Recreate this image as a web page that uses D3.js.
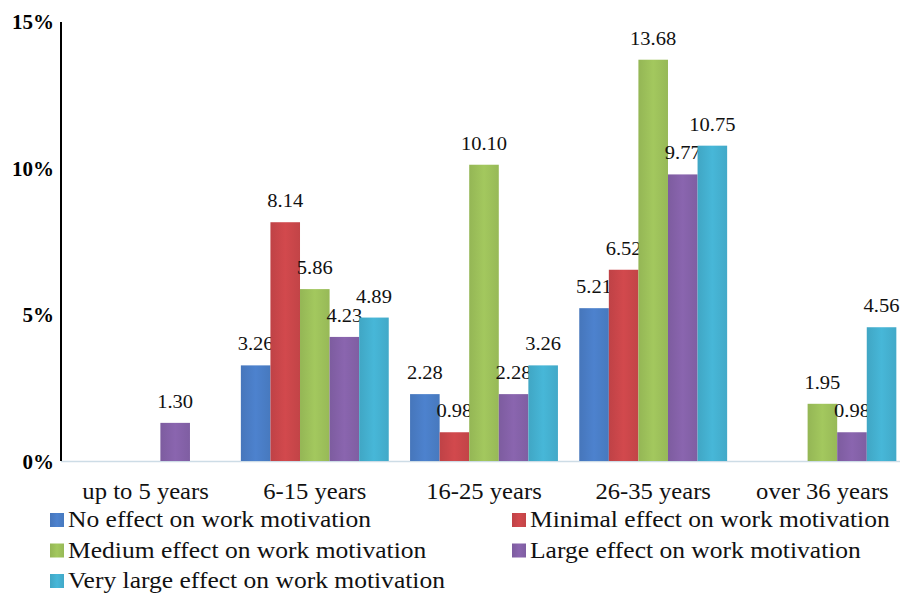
<!DOCTYPE html>
<html>
<head>
<meta charset="utf-8">
<script src="https://cdn.jsdelivr.net/npm/d3@7"></script>
<style>
  html, body { margin: 0; padding: 0; background: #fff; }
  svg text { font-family: "Times New Roman", "Liberation Serif", Times, "Noto Serif", "DejaVu Serif", serif; }
</style>
</head>
<body>
<svg id="chart" width="902" height="594"></svg>
<script>
// Years of service groups
const categories = ["up to 5 years", "6-15 years", "16-25 years", "26-35 years", "over 36 years"];

// Share of respondents (%) per effect level; null = no bar
const noEffect       = [null, 3.26, 2.28, 5.21, null];
const minimalEffect  = [null, 8.14, 0.98, 6.52, null];
const mediumEffect   = [null, 5.86, 10.10, 13.68, 1.95];
const largeEffect    = [1.30, 4.23, 2.28, 9.77, 0.98];
const veryLargeEffect= [null, 4.89, 3.26, 10.75, 4.56];

const seriesNames = [
  "No effect on work motivation",
  "Minimal effect on work motivation",
  "Medium effect on work motivation",
  "Large effect on work motivation",
  "Very large effect on work motivation"
];
const seriesColors = ["#4a7dc5", "#c9464a", "#9cc05a", "#8461a8", "#44afcf"];
const yTicks = [0, 5, 10, 15];
const yTickLabels = ["0%", "5%", "10%", "15%"];

const seriesValues = [noEffect, minimalEffect, mediumEffect, largeEffect, veryLargeEffect];

const svg = d3.select("#chart");

const x0 = d3.scaleBand().domain(categories).range([61, 907]).paddingInner(0.126).paddingOuter(0.063);
const x1 = d3.scaleBand().domain(d3.range(seriesNames.length)).range([0, x0.bandwidth()]);
const y = d3.scaleLinear().domain([0, 15]).range([461, 21]);

// Gradients for a soft, lit bar look
const defs = svg.append("defs");
seriesColors.forEach((c, i) => {
  const g = defs.append("linearGradient").attr("id", "grad" + i)
    .attr("x1", "0").attr("x2", "1").attr("y1", "0").attr("y2", "0");
  const base = d3.color(c);
  g.append("stop").attr("offset", "0%").attr("stop-color", base.darker(0.15));
  g.append("stop").attr("offset", "50%").attr("stop-color", base.brighter(0.12));
  g.append("stop").attr("offset", "100%").attr("stop-color", base.darker(0.1));
});

// Baseline along the category axis
svg.append("line")
  .attr("x1", 61).attr("x2", 900)
  .attr("y1", y(0) + 0.5).attr("y2", y(0) + 0.5)
  .attr("stroke", "#cddce6").attr("stroke-width", 1.5);

// Bars
const groups = svg.append("g").selectAll("g")
  .data(categories)
  .join("g")
  .attr("transform", d => `translate(${x0(d)},0)`);

const cells = groups.selectAll("g.cell")
  .data((d, ci) => seriesValues.map((vals, si) => ({ si, v: vals[ci] })).filter(o => o.v !== null))
  .join("g").attr("class", "cell");

cells.append("rect")
  .attr("x", d => x1(d.si))
  .attr("width", x1.bandwidth())
  .attr("y", d => y(d.v))
  .attr("height", d => y(0) - y(d.v))
  .attr("fill", d => `url(#grad${d.si})`);

// Value labels
cells.append("text")
  .attr("x", d => x1(d.si) + x1.bandwidth() / 2)
  .attr("y", d => y(d.v) - 15)
  .attr("text-anchor", "middle")
  .attr("font-size", 19)
  .attr("fill", "#111")
  .attr("data-stretch", 1.08)
  .text(d => d.v.toFixed(2));

// Y axis
const yAxis = d3.axisLeft(y).tickValues(yTicks).tickFormat((d, i) => yTickLabels[i]).tickSize(0).tickPadding(7);
const ya = svg.append("g").attr("transform", "translate(61,0)").call(yAxis).attr("font-family", null);
ya.select(".domain").attr("stroke", "#000").attr("stroke-width", 2).attr("d", `M0,${y(0)}V${y(15) + 1}`);
ya.selectAll("text")
  .attr("font-size", 21).attr("font-weight", "bold").attr("fill", "#000")
  .attr("dy", "0.35em");

// Category labels
svg.append("g").selectAll("text")
  .data(categories)
  .join("text")
  .attr("x", d => x0(d) + x0.bandwidth() / 2)
  .attr("y", 499)
  .attr("text-anchor", "middle")
  .attr("font-size", 23)
  .attr("fill", "#111")
  .attr("data-stretch", 1.07)
  .text(d => d);

// Legend: two columns, filled row by row
const legend = svg.append("g");
const items = legend.selectAll("g")
  .data(seriesNames)
  .join("g")
  .attr("transform", (d, i) => `translate(${i % 2 === 0 ? 50 : 512},${513 + Math.floor(i / 2) * 30.5})`);
items.append("rect")
  .attr("width", 14).attr("height", 14)
  .attr("fill", (d, i) => `url(#grad${i})`);
items.append("text")
  .attr("x", 18).attr("y", 14)
  .attr("font-size", 23)
  .attr("fill", "#111")
  .attr("data-stretch", 1.11)
  .text(d => d);

// Widen text slightly
svg.selectAll("text[data-stretch]").each(function () {
  const len = this.getComputedTextLength();
  const k = +this.getAttribute("data-stretch");
  d3.select(this).attr("textLength", len * k).attr("lengthAdjust", "spacingAndGlyphs");
});
</script>
</body>
</html>
